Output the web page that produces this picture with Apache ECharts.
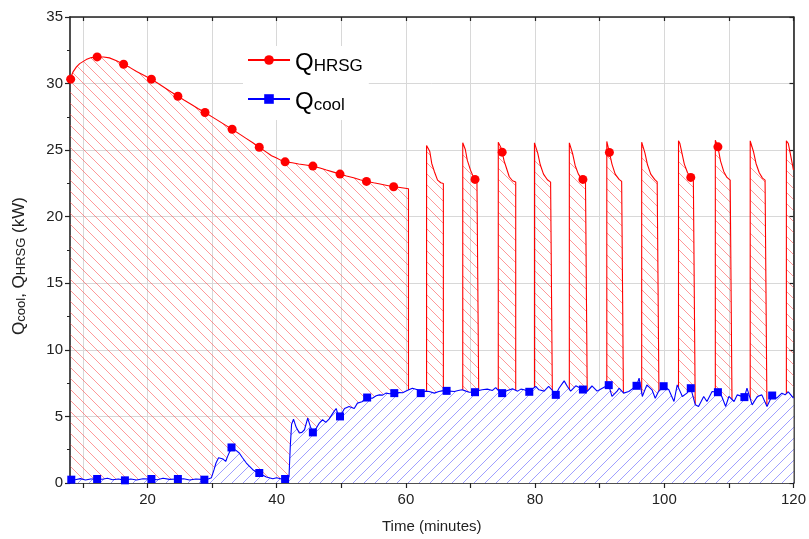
<!DOCTYPE html>
<html>
<head>
<meta charset="utf-8">
<script src="https://cdn.jsdelivr.net/npm/echarts@6/dist/echarts.min.js"></script>
<style>
  html, body { margin: 0; padding: 0; background: #fff; }
  #chart { width: 809px; height: 539px; }
</style>
</head>
<body>
<div id="chart"></div>
<script>
// Heat recovered in the HRSG (kW) vs time (min): steady decay, then on/off pulses.
// During the off periods the trace sits below the cooling curve.
const hrsgLine = [
  [8.0,30.35],[8.5,30.9],[9.0,31.25],[9.5,31.5],[10.5,31.8],[11.3,31.95],
  [13.2,32.0],[14.1,31.93],[15.2,31.72],
  [17.3,31.2],[18.3,30.9],[19.5,30.6],
  [21.6,30.02],[22.6,29.7],[23.6,29.38],
  [25.7,28.75],[26.8,28.43],[27.8,28.13],
  [30.0,27.5],[31.0,27.2],[32.0,26.9],
  [34.2,26.22],[35.2,25.9],[36.3,25.56],
  [38.4,24.85],[39.2,24.58],[39.9,24.42],[40.6,24.25],
  [42.4,24.05],[43.4,23.96],[44.5,23.88],
  [46.7,23.66],[47.7,23.51],[48.8,23.35],
  [50.8,23.06],[51.9,22.92],[52.9,22.78],
  [55.0,22.55],[56.0,22.46],[57.1,22.35],
  [59.1,22.2],[60.4,22.1],[60.4,5.0],
  [63.2,5.0],[63.2,25.35],[63.4,25.28],[63.7,24.9],[64.0,24.0],[64.4,23.4],[64.9,22.75],[65.4,22.55],[65.8,22.5],[65.8,5.0],
  [68.8,5.0],[68.8,25.55],[69.0,25.45],[69.2,25.05],[69.5,24.25],[70.0,23.5],[70.4,23.05],[71.0,22.62],[71.3,22.55],[71.3,5.0],
  [74.3,5.0],[74.3,25.6],[74.5,25.48],[74.7,25.2],[75.2,24.2],[75.5,23.75],[76.0,23.0],[76.5,22.7],[77.0,22.6],[77.0,5.0],
  [79.9,5.0],[79.9,25.55],[80.1,25.42],[80.4,24.8],[80.8,23.9],[81.3,23.2],[81.9,22.78],[82.4,22.6],[82.7,22.55],[82.7,5.0],
  [85.3,5.0],[85.3,25.55],[85.5,25.42],[85.8,24.75],[86.2,23.85],[86.7,23.2],[87.1,22.92],[87.8,22.62],[88.1,22.55],[88.1,5.0],
  [91.1,5.0],[91.1,25.65],[91.3,25.5],[91.9,23.95],[92.4,23.2],[93.0,22.8],[93.4,22.65],[93.7,22.6],[93.7,5.0],
  [96.5,5.0],[96.5,25.6],[96.7,25.45],[97.0,24.8],[97.4,23.9],[97.9,23.2],[98.5,22.8],[98.9,22.62],[99.2,22.58],[99.2,5.0],
  [102.2,5.0],[102.2,25.7],[102.4,25.52],[102.7,24.85],[103.1,23.95],[103.6,23.3],[104.5,22.78],[104.8,22.72],[104.8,5.0],
  [107.9,5.0],[107.9,25.75],[108.1,25.6],[108.7,24.2],[109.2,23.4],[109.7,22.95],[110.2,22.75],[110.5,22.7],[110.5,5.0],
  [113.3,5.0],[113.3,25.7],[113.5,25.55],[113.8,24.9],[114.2,24.0],[114.7,23.3],[115.2,22.9],[115.6,22.75],[115.9,22.7],[115.9,5.0],
  [118.9,5.0],[118.9,25.7],[119.2,25.5],[119.5,24.75],[120.0,23.5]
];
const hrsgMarkers = [
  [8.1,30.33],[12.2,32.0],[16.3,31.45],[20.6,30.33],[24.7,29.05],[28.9,27.83],
  [33.1,26.57],[37.3,25.22],[41.3,24.12],[45.6,23.8],[49.8,23.2],[53.9,22.65],
  [58.1,22.25],[70.7,22.8],[74.9,24.85],[87.4,22.8],[91.5,24.83],[104.1,22.95],[108.3,25.25]
];

// Heat removed by the cooler (kW) vs time (min)
const coolLine = [
  [8.0,0.3],[8.8,0.25],[9.6,0.33],[10.4,0.22],[11.2,0.3],
  [13.0,0.28],[13.8,0.36],[14.6,0.25],[15.5,0.3],
  [17.4,0.3],[18.3,0.22],[19.3,0.32],
  [21.5,0.25],[22.4,0.36],[23.4,0.27],
  [25.6,0.32],[26.5,0.22],[27.5,0.3],
  [29.4,0.3],[29.9,0.4],[30.3,1.0],[30.6,1.5],[31.0,1.9],[31.3,2.02],[31.7,1.8],[32.1,1.62],[32.4,2.0],
  [33.7,2.45],[34.2,2.25],[34.7,1.9],[35.3,1.5],[35.8,1.25],[36.3,1.0],[36.8,0.85],
  [37.8,0.6],[38.4,0.45],[39.4,0.32],[40.0,0.4],[40.7,0.3],
  [41.9,0.45],[42.1,2.75],[42.3,4.4],[42.6,4.8],[43.0,4.2],[43.5,3.75],[43.9,3.8],[44.3,4.0],[44.8,4.87],[45.2,4.25],
  [46.1,4.1],[46.6,4.5],[47.1,4.75],[47.6,4.55],[48.1,4.8],[48.7,5.25],[49.2,5.6],[49.4,5.3],
  [50.5,5.6],[51.2,5.75],[52.0,5.6],[52.5,6.0],[53.2,6.1],
  [54.8,6.37],[55.4,6.55],[55.9,6.62],[56.4,6.6],[56.9,6.75],[57.5,6.7],
  [59.0,6.8],[59.5,6.78],[60.2,6.95],[61.0,7.12],[61.8,7.0],
  [63.0,6.9],[63.6,6.87],[64.4,6.75],[65.1,6.87],[65.6,6.92],
  [67.5,6.87],[68.1,6.95],[68.7,7.0],[69.3,6.9],[69.8,6.82],
  [71.3,6.95],[71.8,7.0],[72.6,7.05],[73.4,6.95],[73.9,7.17],[74.4,6.9],
  [75.7,6.95],[76.5,7.07],[77.3,6.9],[77.8,7.05],[78.3,7.0],
  [79.6,7.07],[80.1,7.25],[80.6,7.0],[81.4,6.9],[82.1,7.25],[82.6,7.0],
  [83.7,7.12],[84.5,7.67],[85.0,7.25],[85.5,6.9],[86.3,7.3],[86.9,7.15],
  [88.1,6.9],[88.8,7.3],[89.6,6.9],[90.4,7.12],[90.9,7.25],
  [91.9,6.5],[92.2,6.55],[92.7,6.9],[93.0,7.12],[93.7,6.75],[94.5,6.87],[95.0,7.05],
  [96.1,7.87],[96.6,6.5],[97.3,7.37],[98.1,7.0],[98.6,6.37],[99.1,6.87],
  [100.7,7.0],[101.5,6.12],[102.0,7.37],[102.8,6.5],[103.5,6.75],
  [104.8,5.87],[105.3,5.75],[106.1,6.5],[106.6,6.12],[107.4,6.87],
  [108.9,6.5],[109.5,5.75],[110.0,6.5],[110.8,6.12],[111.3,6.62],
  [112.8,7.12],[113.6,5.87],[114.4,6.5],[115.1,6.62],[115.9,5.75],
  [117.4,6.37],[118.2,6.75],[118.7,6.62],[119.2,6.85],[120.0,6.37]
];
const coolMarkers = [
  [8.2,0.25],[12.2,0.3],[16.5,0.2],[20.6,0.3],[24.7,0.3],[28.8,0.25],[33.0,2.67],
  [37.3,0.75],[41.3,0.3],[45.6,3.8],[49.8,5.0],[54.0,6.42],[58.2,6.75],[62.3,6.75],
  [66.3,6.92],[70.7,6.82],[74.9,6.75],[79.1,6.85],[83.2,6.62],[87.4,7.02],[91.4,7.35],
  [95.7,7.3],[99.9,7.27],[104.1,7.12],[108.3,6.82],[112.4,6.45],[116.7,6.57]
];

const xLabelValues = [20, 40, 60, 80, 100, 120];
const xTickValues = [10, 20, 30, 40, 50, 60, 70, 80, 90, 100, 110, 120];

// Diagonal hatch tile used as an area fill
function hatchTile(color, backslash, background) {
  const s = 11;
  const c = document.createElement('canvas');
  c.width = s; c.height = s;
  const g = c.getContext('2d');
  if (background) { g.fillStyle = background; g.fillRect(0, 0, s, s); }
  g.strokeStyle = color;
  g.lineWidth = 1;
  for (let k = -1; k <= 1; k++) {
    g.beginPath();
    if (backslash) { g.moveTo(k * s, 0); g.lineTo(k * s + s, s); }
    else { g.moveTo(k * s, s); g.lineTo(k * s + s, 0); }
    g.stroke();
  }
  return c;
}

// Marker samples become vertices of the line so they sit on it
function withMarkers(line, markers) {
  const pts = line.map(p => ({ value: p, symbol: 'none' }))
    .concat(markers.map(p => ({ value: p })));
  pts.sort((a, b) => a.value[0] - b.value[0]);
  return pts;
}

const FONT = 'Liberation Sans, Arial, sans-serif';
const AXIS_COLOR = '#222';

const chart = echarts.init(document.getElementById('chart'), null, { renderer: 'canvas' });
chart.setOption({
  animation: false,
  backgroundColor: '#fff',
  grid: { left: 70, right: 13, top: 17, bottom: 56, containLabel: false },
  legend: {
    orient: 'vertical',
    left: 243, top: 46,
    itemWidth: 42, itemHeight: 12, itemGap: 15,
    backgroundColor: '#fff',
    padding: [5, 6, 6, 4],
    data: ['QHRSG', 'Qcool'],
    formatter: name => name === 'QHRSG' ? '{q|Q}{s|HRSG}' : '{q|Q}{s|cool}',
    textStyle: {
      fontFamily: FONT, color: '#000',
      rich: {
        q: { fontSize: 24, fontFamily: FONT, color: '#000', lineHeight: 30, verticalAlign: 'bottom' },
        s: { fontSize: 17, fontFamily: FONT, color: '#000', lineHeight: 10, verticalAlign: 'bottom' }
      }
    }
  },
  xAxis: [{
    type: 'value', min: 8, max: 120, position: 'bottom',
    name: 'Time (minutes)', nameLocation: 'middle', nameGap: 36,
    nameTextStyle: { fontFamily: FONT, fontSize: 15, color: AXIS_COLOR },
    axisLine: { show: true, onZero: false, lineStyle: { color: AXIS_COLOR, width: 1.6 } },
    axisTick: { show: true, inside: false, length: 5, customValues: xTickValues, lineStyle: { color: AXIS_COLOR, width: 1.2 } },
    axisLabel: { customValues: xLabelValues, fontFamily: FONT, fontSize: 15, color: AXIS_COLOR, margin: 9 },
    splitLine: { show: true, lineStyle: { color: '#d8d8d8', width: 1 } }
  }, {
    type: 'value', min: 8, max: 120, position: 'top',
    axisLine: { show: true, onZero: false, lineStyle: { color: AXIS_COLOR, width: 1.6 } },
    axisTick: { show: true, inside: true, length: 4, customValues: xTickValues, lineStyle: { color: AXIS_COLOR, width: 1.2 } },
    axisLabel: { show: false },
    splitLine: { show: false }
  }],
  yAxis: [{
    type: 'value', min: 0, max: 35, interval: 5, position: 'left',
    name: '{q|Q}{s|cool}{q|, Q}{s|HRSG}{q| (kW)}',
    nameLocation: 'middle', nameGap: 42, nameRotate: 90,
    nameTextStyle: {
      padding: [0, 32, 0, 0],
      rich: {
        q: { fontFamily: FONT, fontSize: 17, color: AXIS_COLOR, lineHeight: 22, verticalAlign: 'bottom' },
        s: { fontFamily: FONT, fontSize: 13, color: AXIS_COLOR, lineHeight: 12, verticalAlign: 'bottom' }
      }
    },
    axisLine: { show: true, onZero: false, lineStyle: { color: AXIS_COLOR, width: 1.6 } },
    axisTick: { show: true, inside: false, length: 5, lineStyle: { color: AXIS_COLOR, width: 1.2 } },
    minorTick: { show: true, splitNumber: 2, length: 3, lineStyle: { color: AXIS_COLOR, width: 1 } },
    axisLabel: { fontFamily: FONT, fontSize: 15, color: AXIS_COLOR, margin: 7 },
    splitLine: { show: true, lineStyle: { color: '#d8d8d8', width: 1 } }
  }, {
    type: 'value', min: 0, max: 35, interval: 5, position: 'right',
    axisLine: { show: true, onZero: false, lineStyle: { color: AXIS_COLOR, width: 1.6 } },
    axisTick: { show: true, inside: true, length: 4, lineStyle: { color: AXIS_COLOR, width: 1.2 } },
    axisLabel: { show: false },
    splitLine: { show: false }
  }],
  series: [{
    name: 'QHRSG', type: 'line',
    xAxisIndex: 0, yAxisIndex: 0,
    data: withMarkers(hrsgLine, hrsgMarkers),
    symbol: 'circle', symbolSize: 9, showSymbol: true,
    itemStyle: { color: '#ff0000' },
    lineStyle: { color: '#ff0000', width: 1.1 },
    areaStyle: { color: { image: hatchTile('rgba(255,70,70,0.55)', true, null), repeat: 'repeat' }, opacity: 1 },
    z: 2
  }, {
    name: 'Qcool', type: 'line',
    xAxisIndex: 0, yAxisIndex: 0,
    data: withMarkers(coolLine, coolMarkers),
    symbol: 'rect', symbolSize: 8, showSymbol: true,
    itemStyle: { color: '#0000ff' },
    lineStyle: { color: '#0000ff', width: 1.1 },
    areaStyle: { color: { image: hatchTile('rgba(80,80,255,0.55)', false, '#ffffff'), repeat: 'repeat' }, opacity: 1 },
    z: 3
  }]
});
</script>
</body>
</html>
